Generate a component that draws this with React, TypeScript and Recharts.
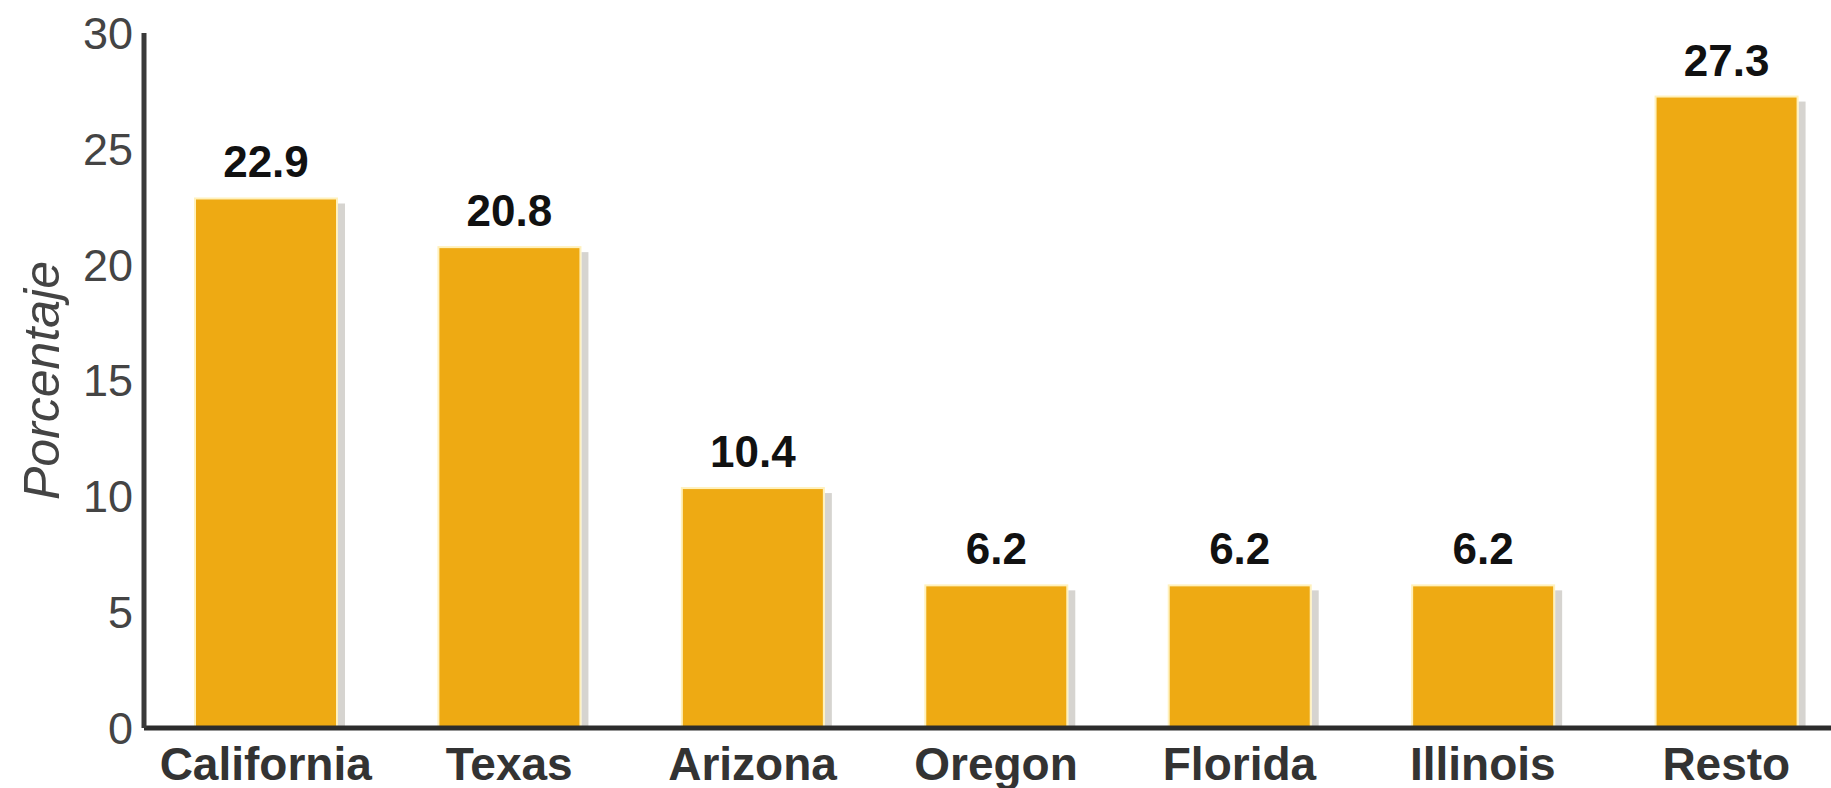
import { BarChart, Bar, XAxis, YAxis, LabelList, Label } from "recharts";

const states = ["California", "Texas", "Arizona", "Oregon", "Florida", "Illinois", "Resto"];
const percentages = [22.9, 20.8, 10.4, 6.2, 6.2, 6.2, 27.3];
const yTicks = [0, 5, 10, 15, 20, 25, 30];

const data = states.map((state, i) => ({ state, value: percentages[i] }));

const FONT = '"Liberation Sans", Arial, Helvetica, sans-serif';

// bar with a pale yellow rim and a grey drop shadow on the right
const ShadowBar = (props: any) => {
  const { x, y, width, height, fill } = props;
  if (!height || height <= 0) return null;
  return (
    <g>
      <rect x={x + width} y={y + 6} width={7} height={height - 6} fill="#d6d4d0" />
      <rect x={x} y={y} width={width} height={height} fill="#fff1bd" />
      <rect x={x + 2} y={y + 2} width={width - 4} height={height - 4} fill={fill} />
    </g>
  );
};

const YTitle = (props: any) => {
  const { viewBox } = props;
  const cy = viewBox.y + viewBox.height / 2;
  return (
    <text
      transform={`translate(59, ${cy}) rotate(-90)`}
      textAnchor="middle"
      fontFamily={FONT}
      fontStyle="italic"
      fontSize={50}
      fill="#444"
    >
      Porcentaje
    </text>
  );
};

export default function App() {
  return (
    <div
      style={{
        position: "fixed",
        left: 0,
        top: 0,
        width: 1831,
        height: 788,
        overflow: "hidden",
        background: "#fff",
      }}
    >
      <BarChart
        width={1860}
        height={788}
        data={data}
        margin={{ top: 33, right: 12, left: 0, bottom: 0 }}
        barCategoryGap={0}
      >
        <XAxis
          dataKey="state"
          height={60}
          axisLine={{ stroke: "#2c2c2c", strokeWidth: 5 }}
          tickLine={false}
          tickSize={0}
          tickMargin={19}
          interval={0}
          tick={{ fill: "#333", fontSize: 46, fontWeight: "bold", fontFamily: FONT }}
        />
        <YAxis
          width={144}
          domain={[0, 30]}
          ticks={yTicks}
          axisLine={{ stroke: "#3a3a3a", strokeWidth: 5 }}
          tickLine={false}
          tickSize={0}
          tickMargin={11}
          tick={{ fill: "#444", fontSize: 45, fontFamily: FONT }}
        >
          <Label content={<YTitle />} />
        </YAxis>
        <Bar
          dataKey="value"
          fill="#eeaa13"
          barSize={144}
          shape={<ShadowBar />}
          isAnimationActive={false}
        >
          <LabelList
            dataKey="value"
            position="top"
            offset={20}
            fill="#111"
            fontSize={44}
            fontWeight="bold"
            fontFamily={FONT}
            formatter={(v: any) => Number(v).toFixed(1)}
          />
        </Bar>
      </BarChart>
    </div>
  );
}
